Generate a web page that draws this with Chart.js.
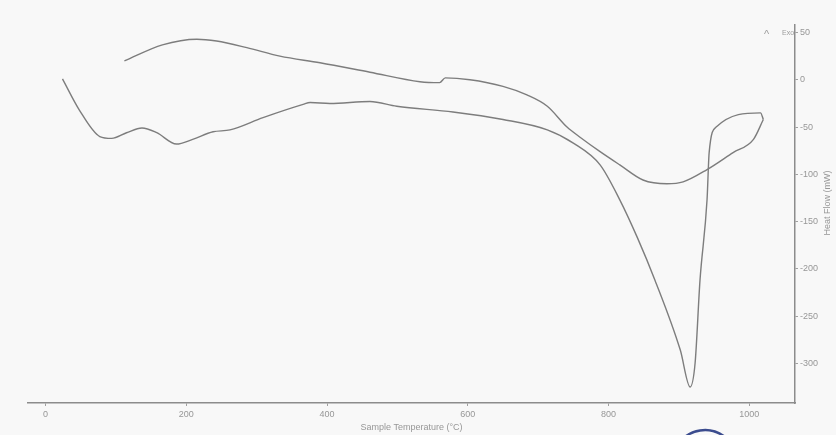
<!DOCTYPE html>
<html>
<head>
<meta charset="utf-8">
<script src="https://cdn.jsdelivr.net/npm/chart.js@4.4.1/dist/chart.umd.min.js"></script>
<style>
  html, body { margin: 0; padding: 0; background: #f8f8f8; }
  #wrap { width: 836px; height: 435px; position: relative; }
</style>
</head>
<body>
<div id="wrap"><canvas id="dsc" width="836" height="435"></canvas></div>
<script>
// heating run (left to right), then cooling run back (right to left)
var heatTemp = [24, 48, 77, 94, 115, 137, 158, 186, 209, 238, 262, 309, 366, 376, 404, 461, 499, 579, 650, 713, 750, 788, 816, 841, 866, 902, 916, 923, 930, 940, 943, 953, 1016, 1020];
var heatFlow = [1, -32, -60, -62, -56, -51, -56, -68, -63, -55, -53, -40, -26, -24, -25, -23, -28, -34, -42, -53, -67, -90, -127, -167, -212, -286, -325, -300, -212, -127, -77, -50, -35, -42];

var coolTemp = [1020, 1006, 977, 940, 906, 883, 849, 816, 788, 760, 741, 713, 684, 650, 603, 568, 560, 532, 461, 390, 333, 286, 243, 215, 166, 112];
var coolFlow = [-42, -63, -77, -95, -108, -110, -106, -90, -76, -61, -50, -28, -16, -7, 0, 2, -3, -2, 8, 18, 25, 34, 41, 43, 37, 20];

var xTicks = [0, 200, 400, 600, 800, 1000];
var yTicks = [50, 0, -50, -100, -150, -200, -250, -300];

function pts(xs, ys) {
  return xs.map(function (x, i) { return { x: x, y: ys[i] }; });
}

var lineCol = '#7d7d7d';
var txtCol = '#979797';
var fnt = '"Liberation Sans Narrow", "Liberation Sans", sans-serif';

// extra labels: rotated y title, "^ Exo", bit of the stamp
var extras = {
  id: 'extras',
  afterDraw: function (chart) {
    var ctx = chart.ctx;
    ctx.save();
    ctx.fillStyle = txtCol;
    ctx.font = '9px ' + fnt;
    ctx.textAlign = 'center';
    ctx.textBaseline = 'middle';
    ctx.translate(828, 203);
    ctx.rotate(-Math.PI / 2);
    ctx.fillText('Heat Flow (mW)', 0, 0);
    ctx.restore();

    ctx.save();
    ctx.fillStyle = '#9c9c9c';
    ctx.font = '11px ' + fnt;
    ctx.textBaseline = 'middle';
    ctx.fillText('^', 764, 35);
    ctx.font = '7px ' + fnt;
    ctx.fillText('Exo', 782, 33);
    ctx.restore();

    ctx.save();
    ctx.strokeStyle = '#3b4c8e';
    ctx.lineWidth = 2.5;
    ctx.beginPath();
    ctx.arc(705, 462, 32, Math.PI * 1.2, Math.PI * 1.8);
    ctx.stroke();
    ctx.restore();
  }
};

new Chart(document.getElementById('dsc'), {
  type: 'scatter',
  data: {
    datasets: [{
      label: 'heating',
      data: pts(heatTemp, heatFlow),
      showLine: true,
      borderColor: lineCol,
      borderWidth: 1.4,
      pointRadius: 0,
      cubicInterpolationMode: 'monotone'
    }, {
      label: 'cooling',
      data: pts(coolTemp, coolFlow),
      showLine: true,
      borderColor: lineCol,
      borderWidth: 1.4,
      pointRadius: 0,
      cubicInterpolationMode: 'monotone'
    }]
  },
  options: {
    responsive: false,
    animation: false,
    layout: { padding: { left: 28, top: 25, right: 0, bottom: 0 } },
    plugins: { legend: { display: false }, tooltip: { enabled: false } },
    scales: {
      x: {
        type: 'linear',
        min: -25,
        max: 1065,
        afterBuildTicks: function (s) { s.ticks = xTicks.map(function (v) { return { value: v }; }); },
        afterFit: function (s) { s.height = 32; },
        grid: { drawOnChartArea: false, drawTicks: true, tickLength: 3, color: '#a0a0a0' },
        border: { display: true, color: '#8c8c8c', width: 1.5 },
        ticks: {
          color: txtCol, font: { size: 9, family: fnt }, padding: 3, maxRotation: 0,
          callback: function (v) { return String(v); }
        },
        title: { display: true, text: 'Sample Temperature (°C)', color: txtCol, font: { size: 9, family: fnt }, padding: { top: 0, bottom: 2 } }
      },
      y: {
        position: 'right',
        min: -342,
        max: 58,
        afterBuildTicks: function (s) { s.ticks = yTicks.map(function (v) { return { value: v }; }); },
        afterFit: function (s) { s.width = 41; },
        grid: { drawOnChartArea: false, drawTicks: true, tickLength: 3, color: '#a0a0a0' },
        border: { display: true, color: '#8c8c8c', width: 1.5 },
        ticks: { color: txtCol, font: { size: 9, family: fnt }, padding: 2 }
      }
    }
  },
  plugins: [extras]
});
</script>
</body>
</html>
